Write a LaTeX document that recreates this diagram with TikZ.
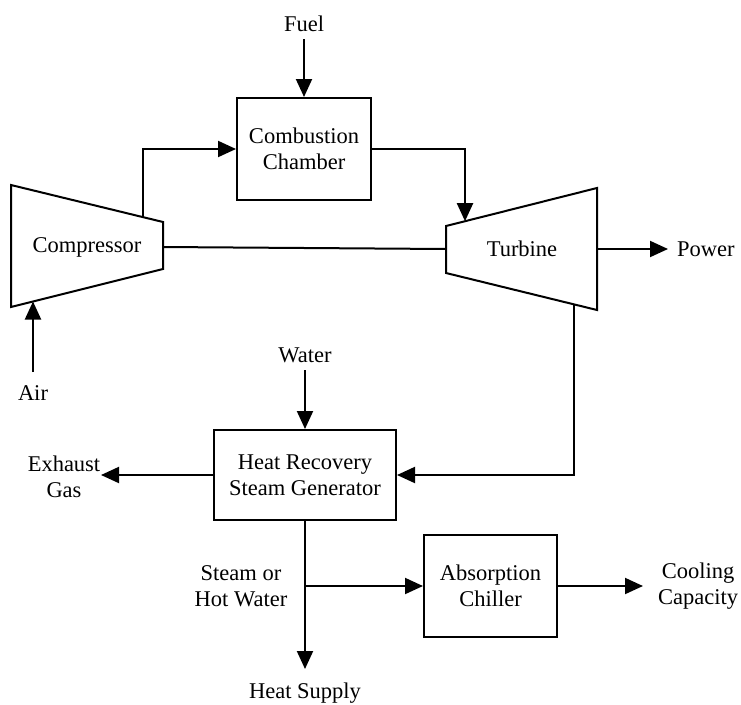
\documentclass[tikz,border=0pt]{standalone}
\usepackage{fontspec}
\setmainfont{Liberation Serif}
\usetikzlibrary{arrows.meta}
\begin{document}
\begin{tikzpicture}[x=1pt,y=-1pt,
  line width=2pt, line join=miter,
  every node/.style={font=\fontsize{22.5}{25.5}\selectfont, inner sep=0pt, align=center},
  boxnode/.style={draw, line width=2pt},
  arr/.style={-{Triangle[length=18pt,width=16pt]}},
  pipe/.style={}]
\useasboundingbox (0,0) rectangle (741,704);

% Compressor
\coordinate (c1) at (11,185); \coordinate (c2) at (163,222);
\coordinate (c3) at (163,269); \coordinate (c4) at (11,307);
\draw (c1) -- (c2) -- (c3) -- (c4) -- cycle;
\node (comp) at (87,247) {Compressor};
\coordinate (ctop) at (143,217);
\coordinate (cbot) at (33,301.5);
\coordinate (cshaft) at (163,247);

% Turbine
\coordinate (t1) at (446,226); \coordinate (t2) at (597,188);
\coordinate (t3) at (597,310); \coordinate (t4) at (446,273);
\draw (t1) -- (t2) -- (t3) -- (t4) -- cycle;
\node (turb) at (522,249) {Turbine};
\coordinate (ttop) at (465,221.2);
\coordinate (tbot) at (574,304.4);
\coordinate (tshaft) at (446,249);
\coordinate (tpow) at (597,249);

% Combustion chamber
\node[boxnode, minimum width=134pt, minimum height=102pt] (cc) at (304,149) {Combustion\\Chamber};
\node (fuel) at (304,24) {Fuel};
\coordinate (fuelstart) at (304,39);

% Shaft
\draw (cshaft) -- (tshaft);

% Compressor -> CC -> Turbine
\draw[arr] (ctop) |- (cc.west);
\draw[arr] (cc.east) -| (ttop);
\draw[arr] (fuelstart) -- (cc.north);

% Power
\node[anchor=west] (power) at (676,249) {Power};
\coordinate (powend) at (668,249);
\draw[arr] (tpow) -- (powend);

% Air
\node (air) at (33,393) {Air};
\coordinate (airstart) at (33,372);
\draw[arr] (airstart) -- (cbot);

% HRSG
\node[boxnode, minimum width=182pt, minimum height=90pt] (hrsg) at (305,475) {Heat Recovery\\Steam Generator};
\node (water) at (305,355) {Water};
\coordinate (waterstart) at (305,370);
\draw[arr] (waterstart) -- (hrsg.north);
\coordinate (tbend) at (574,475);
\draw[arr] (tbot) -- (tbend) -- (hrsg.east);

% Exhaust
\node (exh) at (64,477) {Exhaust\\Gas};
\coordinate (exhend) at (101,475);
\draw[arr] (hrsg.west) -- (exhend);

% Steam / heat supply
\coordinate (branch) at (305,586);
\coordinate (heatend) at (305,669);
\draw[arr] (hrsg.south) -- (heatend);
\node (heat) at (305,693) {Heat Supply};
\node (steam) at (241,586) {Steam or\\Hot Water};

% Absorption chiller
\node[boxnode, minimum width=133pt, minimum height=102pt] (chill) at (490.5,586) {Absorption\\Chiller};
\draw[arr] (branch) -- (chill.west);
\coordinate (coolend) at (643,586);
\draw[arr] (chill.east) -- (coolend);
\node (cool) at (698,586) {Cooling\\Capacity};
\end{tikzpicture}
\end{document}
